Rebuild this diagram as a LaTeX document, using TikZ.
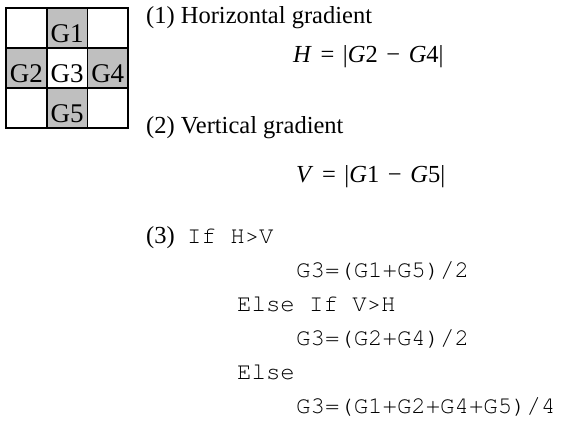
\documentclass[tikz,border=0pt]{standalone}
\usepackage{fontspec}
\setmainfont{Liberation Serif}
\setmonofont{TeX Gyre Cursor}
\newcommand{\eqgap}{\hspace{0.35em}}
\begin{document}
\begin{tikzpicture}[x=1pt,y=-1pt,
    cell/.style={draw, line width=1.8pt, minimum width=40.7pt, minimum height=40pt, inner sep=0pt,
      text height=28pt, text depth=0pt, font=\fontsize{27}{32}\selectfont},
    gcell/.style={cell, fill=black!25},
    txt/.style={anchor=base west, inner sep=0pt, font=\fontsize{24.5}{29}\selectfont},
    code/.style={anchor=base west, inner sep=0pt, font=\fontsize{24}{29}\ttfamily}]
	\useasboundingbox (0,0) rectangle (577,424);
    % pixel neighbourhood
    \node[cell]  (c1) at (26.35,28) {};
    \node[gcell] (G1) at (67.05,28) {G1};
    \node[cell]  (c3) at (107.75,28) {};
    \node[gcell] (G2) at (26.35,68) {G2};
    \node[cell]  (G3) at (67.05,68) {G3};
    \node[gcell] (G4) at (107.75,68) {G4};
    \node[cell]  (c7) at (26.35,108) {};
    \node[gcell] (G5) at (67.05,108) {G5};
    \node[cell]  (c9) at (107.75,108) {};
    % gradients
    \node[txt] (hor) at (146,23) {(1) Horizontal gradient};
    \node[txt] (heq) at (293,62) {\textit{H}\eqgap=\eqgap|\textit{G}2\eqgap−\eqgap\textit{G}4|};
    \node[txt] (ver) at (146,133) {(2) Vertical gradient};
    \node[txt] (veq) at (296,182) {\textit{V}\eqgap=\eqgap|\textit{G}1\eqgap−\eqgap\textit{G}5|};
    % interpolation rule
    \node[txt]  (rule) at (146,243) {(3)};
    \node[code] (ifhv) at (187,243) {If H>V};
    \node[code] (avgv) at (296,277) {G3=(G1+G5)/2};
    \node[code] (elif) at (237,311) {Else If V>H};
    \node[code] (avgh) at (296,345) {G3=(G2+G4)/2};
    \node[code] (els)  at (237,379) {Else};
    \node[code] (avga) at (296,413) {G3=(G1+G2+G4+G5)/4};
	\end{tikzpicture}
\end{document}
